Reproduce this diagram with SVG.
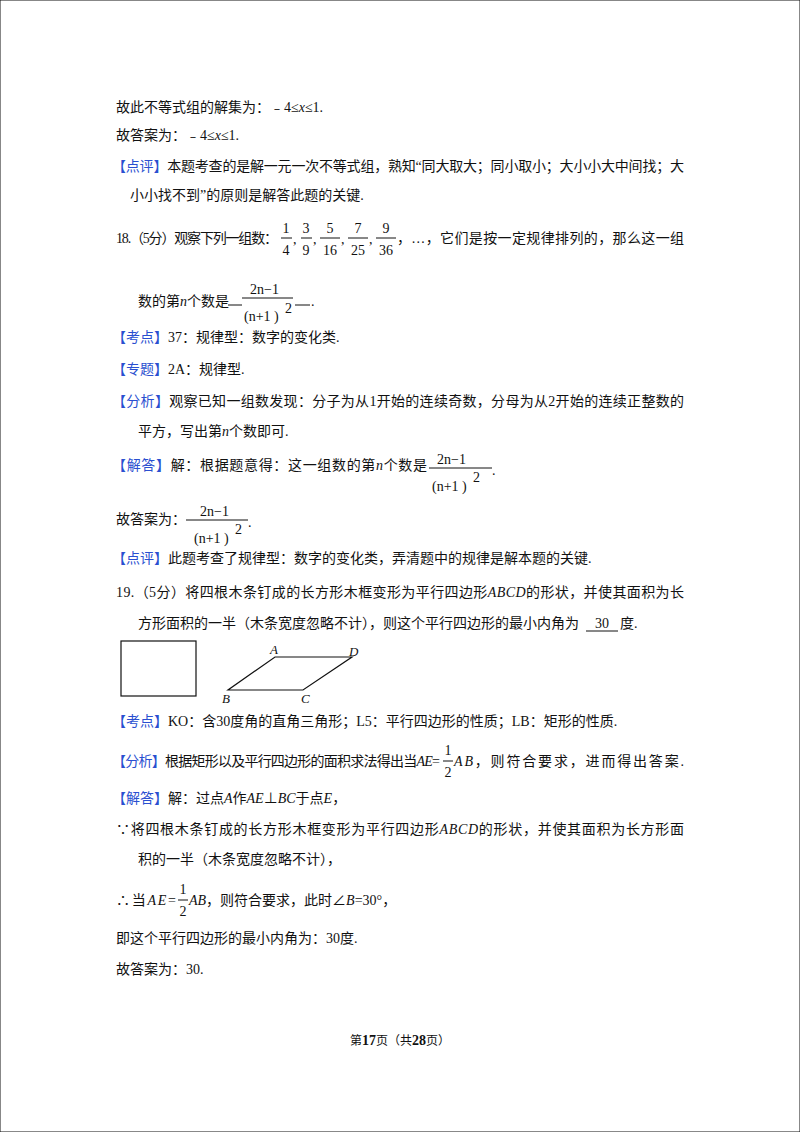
<svg xmlns="http://www.w3.org/2000/svg" width="800" height="1132" viewBox="0 0 800 1132">
<style>
text{font-family:"Liberation Serif","Noto Sans CJK SC",serif;font-size:14px;fill:#111}
.b{fill:#2a4fd0}
.i{font-style:italic}
.s{font-family:"Liberation Sans","Noto Sans CJK SC",sans-serif}
line,rect,polygon{stroke:#111;fill:none}
</style>
<rect width="800" height="1132" fill="#fff" stroke="none"/>
<text x="116" y="112">故此不等式组的解集为：﹣4≤<tspan class="i">x</tspan>≤1.</text>
<text x="116" y="140">故答案为：﹣4≤<tspan class="i">x</tspan>≤1.</text>
<text x="112" y="171" textLength="572"><tspan class="b">【点评】</tspan>本题考查的是解一元一次不等式组，熟知“同大取大；同小取小；大小小大中间找；大</text>
<text x="130" y="200">小小找不到”的原则是解答此题的关键.</text>
<text x="116" y="243" textLength="162">18.（5分）观察下列一组数：</text>
<g text-anchor="middle">
<text x="286" y="233">1</text><text x="286" y="255">4</text><line x1="281" y1="238" x2="292" y2="238"/>
<text x="306" y="233">3</text><text x="306" y="255">9</text><line x1="301" y1="238" x2="312" y2="238"/>
<text x="330" y="233">5</text><text x="330" y="255">16</text><line x1="320" y1="238" x2="340" y2="238"/>
<text x="358" y="233">7</text><text x="358" y="255">25</text><line x1="348" y1="238" x2="368" y2="238"/>
<text x="386" y="233">9</text><text x="386" y="255">36</text><line x1="376" y1="238" x2="396" y2="238"/>
</g>
<text x="293" y="244">,</text><text x="313" y="244">,</text><text x="341" y="244">,</text><text x="369" y="244">,</text>
<text x="397" y="243" textLength="287">，…，它们是按一定规律排列的，那么这一组</text>
<text x="138" y="306">数的第<tspan class="i">n</tspan>个数是</text>
<line x1="228" y1="305" x2="242" y2="305"/><line x1="295" y1="305" x2="310" y2="305"/>
<g class="s"><text x="250" y="294" font-size="15">2n−1</text><text x="244" y="321" font-size="13">(n+1 )</text><text x="285" y="313" font-size="12">2</text></g>
<line x1="242" y1="298" x2="293" y2="298"/>
<text x="311" y="306">.</text>
<text x="112" y="342"><tspan class="b">【考点】</tspan>37：规律型：数字的变化类.</text>
<text x="112" y="374"><tspan class="b">【专题】</tspan>2A：规律型.</text>
<text x="112" y="406" textLength="572"><tspan class="b">【分析】</tspan>观察已知一组数发现：分子为从1开始的连续奇数，分母为从2开始的连续正整数的</text>
<text x="138" y="436">平方，写出第<tspan class="i">n</tspan>个数即可.</text>
<text x="112" y="470" textLength="315"><tspan class="b">【解答】</tspan>解：根据题意得：这一组数的第<tspan class="i">n</tspan>个数是</text>
<g class="s"><text x="437" y="464" font-size="15">2n−1</text><text x="432" y="491" font-size="13">(n+1 )</text><text x="473" y="482" font-size="12">2</text></g>
<line x1="429" y1="468" x2="492" y2="468"/><text x="492" y="475">.</text>
<text x="116" y="524">故答案为：</text>
<g class="s"><text x="200" y="516" font-size="15">2n−1</text><text x="194" y="543" font-size="13">(n+1 )</text><text x="235" y="534" font-size="12">2</text></g>
<line x1="186" y1="520" x2="248" y2="520"/><text x="248" y="527">.</text>
<text x="112" y="563"><tspan class="b">【点评】</tspan>此题考查了规律型：数字的变化类，弄清题中的规律是解本题的关键.</text>
<text x="116" y="597" textLength="568">19.（5分）将四根木条钉成的长方形木框变形为平行四边形<tspan class="i">ABCD</tspan>的形状，并使其面积为长</text>
<text x="138" y="628">方形面积的一半（木条宽度忽略不计），则这个平行四边形的最小内角为<tspan x="595">30</tspan><tspan x="620">度.</tspan></text>
<line x1="586" y1="631" x2="618" y2="631"/>
<rect x="121" y="641" width="75" height="55" stroke-width="1.2"/>
<polygon points="275,657 352,657 303,690 228,690" stroke-width="1.2"/>
<g class="i"><text x="270" y="654" style="font-size:13px">A</text><text x="349" y="656" style="font-size:13px">D</text><text x="222" y="703" style="font-size:13px">B</text><text x="301" y="703" style="font-size:13px">C</text></g>
<text x="112" y="726"><tspan class="b">【考点】</tspan>KO：含30度角的直角三角形；L5：平行四边形的性质；LB：矩形的性质.</text>
<text x="112" y="766" textLength="328"><tspan class="b">【分析】</tspan>根据矩形以及平行四边形的面积求法得出当<tspan class="i">AE</tspan>=</text>
<text x="448" y="755" text-anchor="middle">1</text><text x="448" y="777" text-anchor="middle">2</text><line x1="443" y1="761" x2="453" y2="761"/>
<text x="454" y="766" textLength="230"><tspan class="i">AB</tspan>，则符合要求，进而得出答案.</text>
<text x="112" y="803"><tspan class="b">【解答】</tspan>解：过点<tspan class="i">A</tspan>作<tspan class="i">AE</tspan>⊥<tspan class="i">BC</tspan>于点<tspan class="i">E</tspan>，</text>
<text x="116" y="834" textLength="568">∵将四根木条钉成的长方形木框变形为平行四边形<tspan class="i">ABCD</tspan>的形状，并使其面积为长方形面</text>
<text x="138" y="864">积的一半（木条宽度忽略不计），</text>
<text x="116" y="905" textLength="60">∴当<tspan class="i">AE</tspan>=</text>
<text x="183" y="894" text-anchor="middle">1</text><text x="183" y="916" text-anchor="middle">2</text><line x1="178" y1="900" x2="188" y2="900"/>
<text x="189" y="905"><tspan class="i">AB</tspan>，则符合要求，此时∠<tspan class="i">B</tspan>=30°，</text>
<text x="116" y="943">即这个平行四边形的最小内角为：30度.</text>
<text x="116" y="974">故答案为：30.</text>
<text x="400" y="1045" text-anchor="middle" style="font-size:12px">第<tspan font-weight="bold" style="font-size:14px">17</tspan>页（共<tspan font-weight="bold" style="font-size:14px">28</tspan>页）</text>
</svg>
